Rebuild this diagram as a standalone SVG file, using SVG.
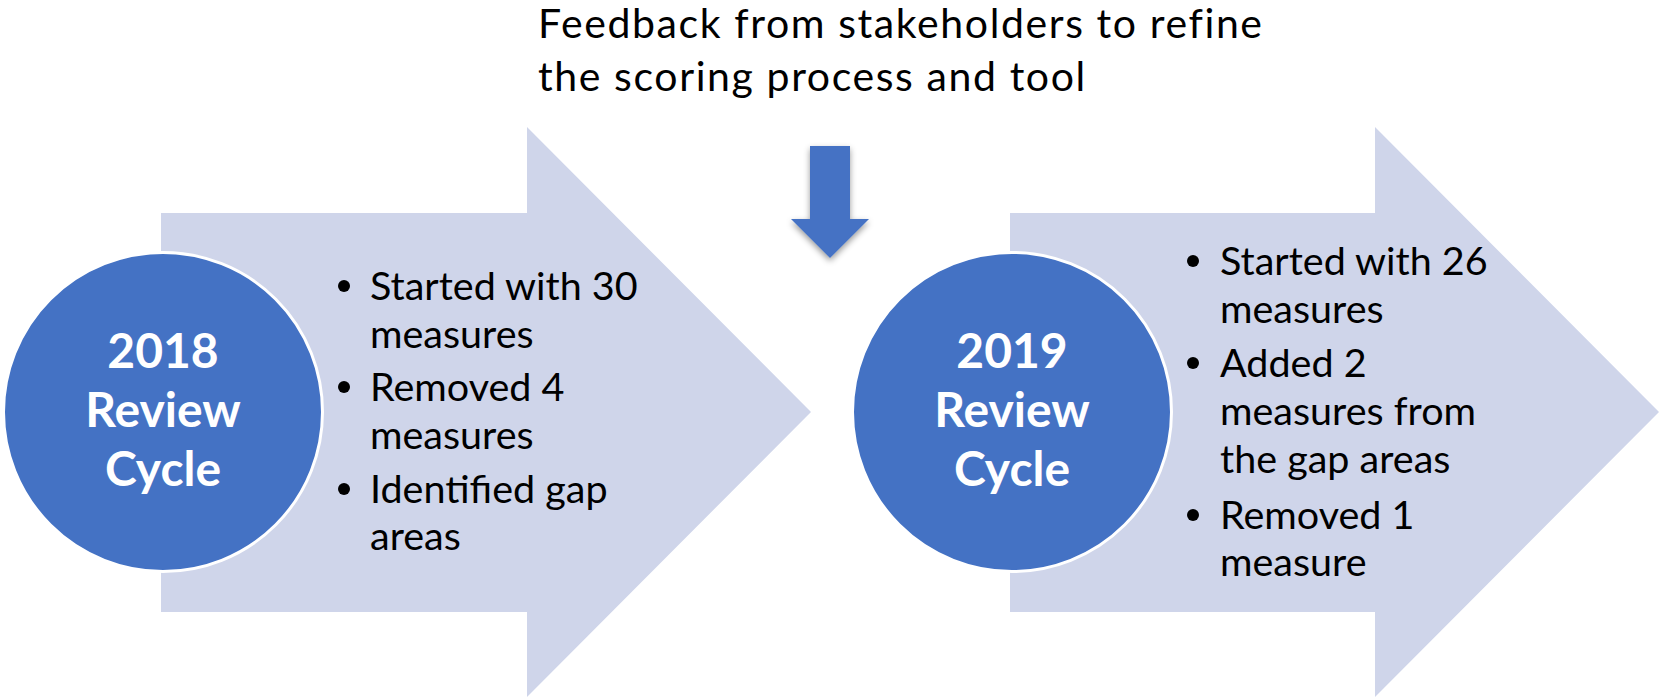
<svg xmlns="http://www.w3.org/2000/svg" width="1659" height="697" viewBox="0 0 1659 697">
  <style>
    .band { fill: #CFD5EA; }
    .disc { fill: #4472C4; stroke: #FFFFFF; stroke-width: 3; }
    .title { font-family: Lato, "Liberation Sans", sans-serif; font-weight: 700; font-size: 48px; fill: #FFFFFF; text-anchor: middle; }
    .item { font-family: Lato, "Liberation Sans", sans-serif; font-size: 39.5px; fill: #000000; }
    .note { font-family: Lato, "Liberation Sans", sans-serif; font-size: 41px; letter-spacing: 1.6px; fill: #000000; }
    .dot { fill: #000000; }
    .feed { fill: #4472C4; }
  </style>
  <defs>
    <filter id="soft-shadow" x="-40%" y="-20%" width="180%" height="160%">
      <feDropShadow dx="0" dy="3" stdDeviation="3" flood-color="#000000" flood-opacity="0.4"/>
    </filter>
  </defs>

  <!-- feedback caption -->
  <g id="feedback-label">
    <text class="note" x="538" y="38">Feedback from stakeholders to refine</text>
    <text class="note" x="538" y="91">the scoring process and tool</text>
  </g>

  <!-- 2018 cycle -->
  <g id="cycle-2018">
    <polygon class="band" points="161,213 527,213 527,127 811,412 527,697 527,612 161,612"/>
    <circle class="disc" cx="163" cy="412" r="159.5"/>
    <text class="title" x="163" y="368">2018</text>
    <text class="title" x="163" y="427">Review</text>
    <text class="title" x="163" y="486">Cycle</text>
    <circle class="dot" cx="344" cy="286" r="6"/>
    <text class="item" x="370" y="300">Started with 30</text>
    <text class="item" x="370" y="348">measures</text>
    <circle class="dot" cx="344" cy="387" r="6"/>
    <text class="item" x="370" y="401">Removed 4</text>
    <text class="item" x="370" y="449">measures</text>
    <circle class="dot" cx="344" cy="489" r="6"/>
    <text class="item" x="370" y="503">Identified gap</text>
    <text class="item" x="370" y="550">areas</text>
  </g>

  <!-- 2019 cycle -->
  <g id="cycle-2019">
    <polygon class="band" points="1010,213 1375,213 1375,127 1659,412 1375,697 1375,612 1010,612"/>
    <circle class="disc" cx="1012" cy="412" r="159.5"/>
    <text class="title" x="1012" y="368">2019</text>
    <text class="title" x="1012" y="427">Review</text>
    <text class="title" x="1012" y="486">Cycle</text>
    <circle class="dot" cx="1193" cy="261" r="6"/>
    <text class="item" x="1220" y="275">Started with 26</text>
    <text class="item" x="1220" y="323">measures</text>
    <circle class="dot" cx="1193" cy="363" r="6"/>
    <text class="item" x="1220" y="377">Added 2</text>
    <text class="item" x="1220" y="425">measures from</text>
    <text class="item" x="1220" y="473">the gap areas</text>
    <circle class="dot" cx="1193" cy="515" r="6"/>
    <text class="item" x="1220" y="529">Removed 1</text>
    <text class="item" x="1220" y="576">measure</text>
  </g>

  <!-- connectors -->
  <g id="connectors">
    <polygon class="feed" filter="url(#soft-shadow)" points="810,146 850,146 850,219 869,219 830,258 791,219 810,219"/>
  </g>
</svg>
